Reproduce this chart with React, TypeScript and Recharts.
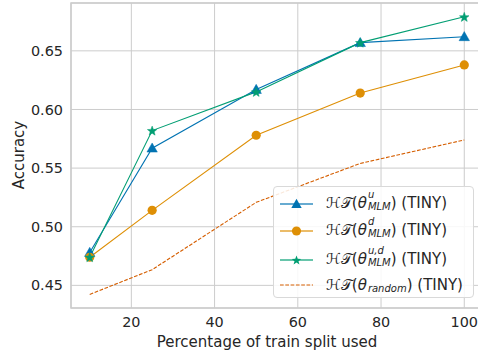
import React from "react";
import { LineChart, Line, XAxis, YAxis, CartesianGrid, ReferenceArea } from "recharts";

const percentages = [10, 25, 50, 75, 100];
const mlmU = [0.478, 0.567, 0.617, 0.657, 0.662];
const mlmD = [0.474, 0.514, 0.578, 0.614, 0.638];
const mlmUD = [0.474, 0.582, 0.615, 0.657, 0.679];
const randomInit = [0.4423, 0.4634, 0.5208, 0.554, 0.574];
const xTicks = [20, 40, 60, 80, 100];
const yTicks = [0.45, 0.5, 0.55, 0.6, 0.65];

const BLUE = "#0173b2";
const ORANGE = "#de8f05";
const GREEN = "#029e73";
const RED = "#d55e00";
const GRID = "#cccccc";
const FONT = "'DejaVu Sans', sans-serif";

const data = percentages.map((p, i) => ({
  p,
  u: mlmU[i],
  d: mlmD[i],
  ud: mlmUD[i],
  r: randomInit[i],
}));

const starPoints = (cx: number, cy: number, R: number) => {
  const r = R * 0.42;
  const pts: string[] = [];
  for (let k = 0; k < 10; k++) {
    const rad = k % 2 === 0 ? R : r;
    const a = -Math.PI / 2 + (k * Math.PI) / 5;
    pts.push(`${cx + rad * Math.cos(a)},${cy + rad * Math.sin(a)}`);
  }
  return pts.join(" ");
};

const Tri = (props: any) => {
  const { cx, cy, key } = props;
  if (cx == null || cy == null) return <g key={key} />;
  const s = 5.2;
  return (
    <polygon
      key={key}
      points={`${cx},${cy - s} ${cx - s},${cy + s * 0.75} ${cx + s},${cy + s * 0.75}`}
      fill={BLUE}
      stroke={BLUE}
      strokeWidth={0.5}
    />
  );
};

const Star = (props: any) => {
  const { cx, cy, key } = props;
  if (cx == null || cy == null) return <g key={key} />;
  return <polygon key={key} points={starPoints(cx, cy + 0.5, 5)} fill={GREEN} stroke={GREEN} strokeWidth={0.5} />;
};

const Circ = (props: any) => {
  const { cx, cy, key } = props;
  if (cx == null || cy == null) return <g key={key} />;
  return <circle key={key} cx={cx} cy={cy} r={4.6} fill={ORANGE} />;
};

const Stack = ({ sup, sub }: { sup?: string; sub: string }) => (
  <span
    style={{
      display: "inline-flex",
      flexDirection: "column",
      fontSize: 10,
      fontStyle: "italic",
      lineHeight: "11.5px",
      verticalAlign: sup ? "10px" : "-2px",
      marginLeft: 1,
    }}
  >
    {sup && <span style={{ height: 11.5 }}>{sup}</span>}
    <span>{sub}</span>
  </span>
);

const legendRows = [
  { color: BLUE, marker: "tri", dashed: false, sup: "u", sub: "MLM" },
  { color: ORANGE, marker: "circ", dashed: false, sup: "d", sub: "MLM" },
  { color: GREEN, marker: "star", dashed: false, sup: "u,d", sub: "MLM" },
  { color: RED, marker: "none", dashed: true, sup: undefined, sub: "random" },
];
const rowY = [203, 230, 259, 284];

const LegendBox = () => (
  <div
    style={{
      position: "absolute",
      left: 273,
      top: 186,
      width: 201,
      height: 112,
      border: "1px solid #d9d9d9",
      borderRadius: 4,
      background: "rgba(255,255,255,0.85)",
      boxSizing: "border-box",
    }}
  >
    {legendRows.map((row, i) => (
      <div
        key={i}
        style={{
          position: "absolute",
          left: 0,
          top: rowY[i] - 186 - 13,
          height: 26,
          width: 200,
          display: "flex",
          alignItems: "center",
        }}
      >
        <svg width={52} height={26} style={{ flex: "none" }}>
          <line
            x1={6}
            x2={39}
            y1={13}
            y2={13}
            stroke={row.color}
            strokeWidth={row.dashed ? 1.2 : 2}
            strokeOpacity={row.dashed ? 1 : 0.6}
            strokeDasharray={row.dashed ? "3.7 1.6" : undefined}
          />
          {row.marker === "tri" && <polygon points="22.5,7.8 17.3,16.9 27.7,16.9" fill={BLUE} />}
          {row.marker === "circ" && <circle cx={22.5} cy={13} r={4.6} fill={ORANGE} />}
          {row.marker === "star" && <polygon points={starPoints(22.5, 13.5, 5)} fill={GREEN} />}
        </svg>
        <span
          style={{
            fontFamily: FONT,
            fontSize: 15,
            color: "#262626",
            whiteSpace: "nowrap",
            lineHeight: "18px",
            position: "relative",
            top: row.sup ? -3.5 : 0,
          }}
        >
          <span>ℋ𝒯</span>(<i>θ</i>
          <Stack sup={row.sup} sub={row.sub} />) (TINY)
        </span>
      </div>
    ))}
  </div>
);

export default function App() {
  return (
    <div style={{ position: "absolute", left: 0, top: 0, width: 478, height: 356, overflow: "hidden", background: "#fff" }}>
      <LineChart width={484} height={356} data={data} margin={{ top: 3, right: 1, bottom: 0, left: 0 }}>
        <CartesianGrid stroke={GRID} strokeWidth={1} horizontal vertical />
        <XAxis
          dataKey="p"
          type="number"
          domain={[5.5, 104.5]}
          ticks={xTicks}
          height={48}
          tickLine={false}
          axisLine={false}
          tickSize={0}
          tickMargin={9}
          tick={{ fontFamily: FONT, fontSize: 14.4, fill: "#262626" }}
          allowDataOverflow
        />
        <YAxis
          type="number"
          domain={[0.4307, 0.6908]}
          ticks={yTicks}
          width={71}
          tickLine={false}
          axisLine={false}
          tickSize={0}
          tickMargin={8}
          tickFormatter={(v: number) => v.toFixed(2)}
          tick={{ fontFamily: FONT, fontSize: 14.4, fill: "#262626" }}
          allowDataOverflow
        />
        <ReferenceArea x1={5.5} x2={104.5} y1={0.4307} y2={0.6908} fill="none" stroke={GRID} strokeWidth={1.5} />
        <Line dataKey="u" stroke={BLUE} strokeWidth={1.1} dot={Tri} activeDot={false} isAnimationActive={false} />
        <Line dataKey="d" stroke={ORANGE} strokeWidth={1.1} dot={Circ} activeDot={false} isAnimationActive={false} />
        <Line dataKey="ud" stroke={GREEN} strokeWidth={1.1} dot={Star} activeDot={false} isAnimationActive={false} />
        <Line
          dataKey="r"
          stroke={RED}
          strokeWidth={1.1}
          strokeDasharray="3.7 1.6"
          dot={false}
          activeDot={false}
          isAnimationActive={false}
        />
      </LineChart>
      <svg width={478} height={356} style={{ position: "absolute", left: 0, top: 0, pointerEvents: "none" }}>
        <text x={267} y={347} textAnchor="middle" fontFamily={FONT} fontSize={15} fill="#262626">
          Percentage of train split used
        </text>
        <text
          x={0}
          y={0}
          transform="translate(24,155) rotate(-90)"
          textAnchor="middle"
          fontFamily={FONT}
          fontSize={15}
          fill="#262626"
        >
          Accuracy
        </text>
      </svg>
      <LegendBox />
    </div>
  );
}
